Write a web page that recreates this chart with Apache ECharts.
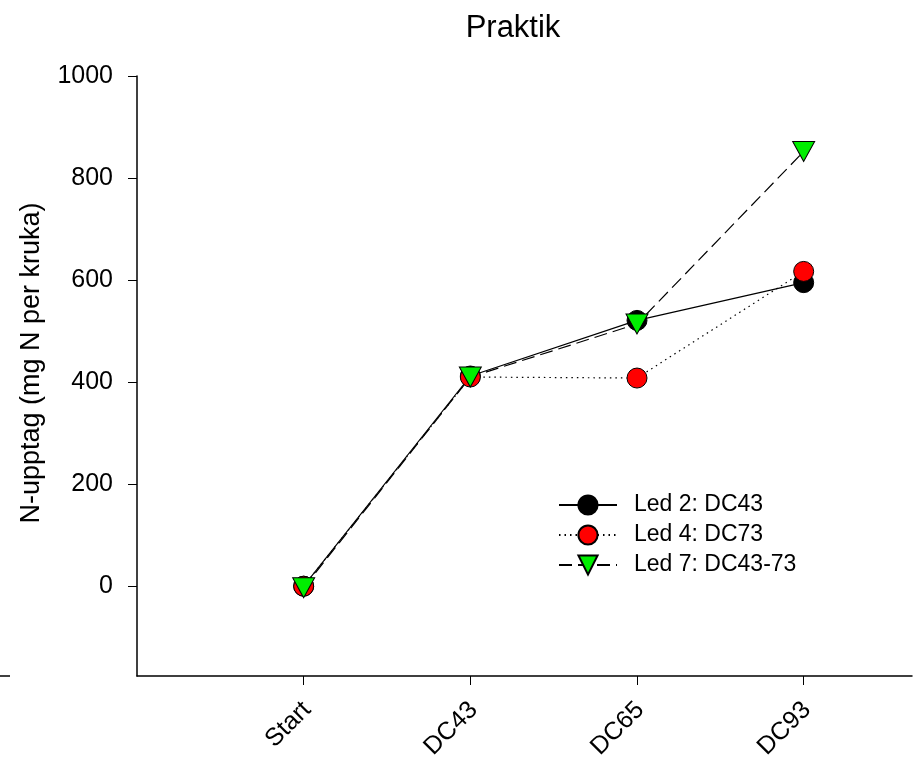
<!DOCTYPE html>
<html><head><meta charset="utf-8">
<script src="https://cdn.jsdelivr.net/npm/echarts@6/dist/echarts.min.js"></script>
<style>html,body{margin:0;padding:0;background:#fff}#c{width:916px;height:757px}</style>
</head><body><div id="c"></div>
<script>
var categories = ['Start', 'DC43', 'DC65', 'DC93'];
var led2 = [0, 412, 521, 595];
var led4 = [0, 410, 408, 617];
var led7 = [-3, 410, 514, 852];
var yTicks = [0, 200, 400, 600, 800, 1000];
var seriesNames = ['Led 2: DC43', 'Led 4: DC73', 'Led 7: DC43-73'];

function pts(arr){ return arr.map(function(v,i){ return [i, v]; }); }
var FONT = 'Liberation Sans, Arial, sans-serif';
var xTickPos = categories.map(function(c,i){ return i; });
var xLabelPos = categories.map(function(c,i){ return i + 0.02; });
var chart = echarts.init(document.getElementById('c'));
chart.setOption({
  animation: false,
  backgroundColor: '#fff',
  title: { text: 'Praktik', left: 508, top: 8, textAlign: 'center',
    textStyle: { fontFamily: FONT, fontSize: 31, fontWeight: 'normal', color: '#000' } },
  grid: { left: 137, right: 4, top: 76, bottom: 81, containLabel: false, outerBoundsMode: 'none' },
  legend: {
    left: 553, top: 488, orient: 'vertical', itemGap: 6, itemWidth: 58, itemHeight: 24,
    textStyle: { fontFamily: FONT, fontSize: 23, lineHeight: 24, color: '#000', padding: [0, 0, 0, 12] },
    data: seriesNames
  },
  xAxis: {
    type: 'value', min: -1, max: 3.65,
    axisLine: { show: true, onZero: false, lineStyle: { color: '#000', width: 1.5 } },
    splitLine: { show: false },
    axisTick: { show: true, inside: false, length: 9, customValues: xTickPos, lineStyle: { color: '#000' } },
    axisLabel: { customValues: xLabelPos, rotate: 45, margin: 30, fontFamily: FONT, fontSize: 25, color: '#000',
      formatter: function(v){ return categories[Math.round(v)]; } }
  },
  yAxis: {
    type: 'value', min: -176, max: 1000,
    name: 'N-upptag (mg N per kruka)', nameLocation: 'middle', nameGap: 92, nameRotate: 90,
    nameTextStyle: { fontFamily: FONT, fontSize: 27, color: '#000', padding: [0, 0, 0, 26] },
    axisLine: { show: true, onZero: false, lineStyle: { color: '#000', width: 1.5 } },
    splitLine: { show: false },
    axisTick: { show: true, length: 9, customValues: yTicks, lineStyle: { color: '#000' } },
    axisLabel: { customValues: yTicks, margin: 24, fontFamily: FONT, fontSize: 25, color: '#000',
      formatter: function(v){ return String(v); } }
  },
  graphic: [{ type: 'line', shape: { x1: 0, y1: 676, x2: 10, y2: 676 }, style: { stroke: '#000', lineWidth: 1.5 } }],
  series: [
    { name: seriesNames[0], type: 'line', data: pts(led2), symbol: 'circle', symbolSize: 20,
      itemStyle: { color: '#000', borderColor: '#000', borderWidth: 1 },
      lineStyle: { color: '#000', width: 1.2, type: 'solid' } },
    { name: seriesNames[1], type: 'line', data: pts(led4), symbol: 'circle', symbolSize: 20,
      itemStyle: { color: '#ff0000', borderColor: '#000', borderWidth: 1 },
      lineStyle: { color: '#000', width: 1.2, type: [1.5, 4] } },
    { name: seriesNames[2], type: 'line', data: pts(led7), symbol: 'triangle', symbolRotate: 180, symbolSize: [22, 20],
      itemStyle: { color: '#00ee00', borderColor: '#000', borderWidth: 1 },
      lineStyle: { color: '#000', width: 1.2, type: [13, 6] } }
  ]
});
</script></body></html>
